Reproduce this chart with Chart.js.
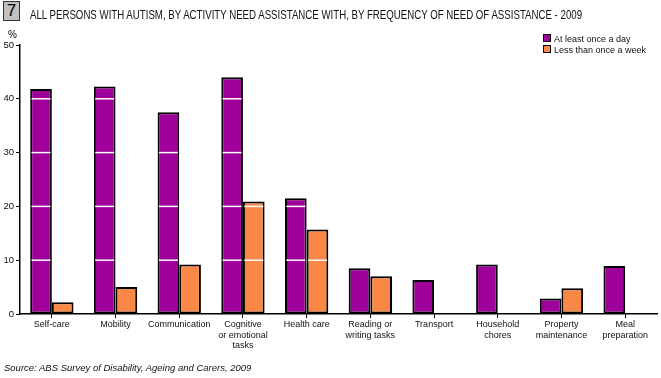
<!DOCTYPE html>
<html>
<head>
<meta charset="utf-8">
<script src="https://cdn.jsdelivr.net/npm/chart.js@4"></script>
<style>
  body { margin: 0; background: #fff; font-family: "Liberation Sans", sans-serif; }
  #wrap { position: relative; width: 661px; height: 378px; overflow: hidden; }
  #chart { position: absolute; left: 0; top: 0; }
  .num { position: absolute; left: 3px; top: 1px; width: 15px; height: 18px; background: #c0c0c0;
         border: 1px solid #333; font: 17px "Liberation Sans", sans-serif; text-align: center; line-height: 18px; }
  .title { position: absolute; left: 30px; top: 8px; font-size: 12px; color: #111; white-space: nowrap;
           transform-origin: 0 0; }
  .pct { position: absolute; left: 8px; top: 29px; font: 10px "Liberation Sans", sans-serif; }
  .legend { position: absolute; left: 543px; top: 34px; font: 9px "Liberation Sans", sans-serif; color: #111; }
  .legend div { height: 11px; line-height: 11px; white-space: nowrap; }
  .legend span { display: inline-block; width: 6px; height: 6px; border: 1px solid #000; margin-right: 3px; vertical-align: 0px; }
  .source { position: absolute; left: 4px; top: 362px; font: italic 9.5px "Liberation Sans", sans-serif; color: #111; }
</style>
</head>
<body>
<div id="wrap">
  <canvas id="chart" width="661" height="378"></canvas>
  <div class="num">7</div>
  <div class="title" id="title">ALL PERSONS WITH AUTISM, BY ACTIVITY NEED ASSISTANCE WITH, BY FREQUENCY OF NEED OF ASSISTANCE - 2009</div>
  <div class="pct">%</div>
  <div class="legend" id="legend"></div>
  <div class="source">Source: ABS Survey of Disability, Ageing and Carers, 2009</div>
</div>
<script>
const categories = [
  "Self-care",
  "Mobility",
  "Communication",
  ["Cognitive", "or emotional", "tasks"],
  "Health care",
  ["Reading or", "writing tasks"],
  "Transport",
  ["Household", "chores"],
  ["Property", "maintenance"],
  ["Meal", "preparation"]
];
const seriesNames = ["At least once a day", "Less than once a week"];
const dailyValues = [41.8, 42.3, 37.5, 44.0, 21.5, 8.5, 6.3, 9.2, 2.9, 8.9];
const weeklyValues = [2.2, 5.0, 9.2, 20.9, 15.7, 7.0, null, null, 4.8, null];
const yTicks = [0, 10, 20, 30, 40, 50];
const colors = ["#9e0099", "#f98846"];

const tickFont = { family: "Liberation Sans", size: 9 };

// squeeze the title like the narrow original font
const titleEl = document.getElementById("title");
titleEl.style.transform = `scaleX(${552 / titleEl.offsetWidth})`;

// legend in html, squares like the original
const legendEl = document.getElementById("legend");
seriesNames.forEach((name, i) => {
  const row = document.createElement("div");
  row.innerHTML = `<span style="background:${colors[i]}"></span>${name}`;
  legendEl.appendChild(row);
});

// white gridlines show only inside the bars, borders stay black
const barGridPlugin = {
  id: "barGrid",
  afterDatasetsDraw(chart) {
    const { ctx } = chart;
    const yScale = chart.scales.y;
    ctx.save();
    ctx.strokeStyle = "#fff";
    ctx.lineWidth = 1.5;
    chart.data.datasets.forEach((ds, di) => {
      chart.getDatasetMeta(di).data.forEach((bar) => {
        if (bar.y == null || isNaN(bar.y)) return;
        const bw = ds.borderWidth;
        const left = bar.x - bar.width / 2 + bw - 0.7;
        const right = bar.x + bar.width / 2 - bw + 0.7;
        yTicks.forEach((v) => {
          if (v === 0) return;
          const py = yScale.getPixelForValue(v);
          if (py <= bar.y + bw || py >= bar.base - bw) return;
          ctx.beginPath();
          ctx.moveTo(left, py);
          ctx.lineTo(right, py);
          ctx.stroke();
        });
      });
    });
    ctx.restore();
  },
};

new Chart(document.getElementById("chart"), {
  type: "bar",
  data: {
    labels: categories,
    datasets: [
      { label: seriesNames[0], data: dailyValues },
      { label: seriesNames[1], data: weeklyValues },
    ].map((ds, i) => ({
      ...ds,
      backgroundColor: colors[i],
      borderColor: "#000",
      borderWidth: 2,
      borderSkipped: false,
      barPercentage: 1,
      categoryPercentage: 0.68,
    })),
  },
  plugins: [barGridPlugin],
  options: {
    responsive: false,
    animation: false,
    layout: { padding: { top: 45, right: 4, left: 0, bottom: 0 } },
    plugins: { legend: { display: false }, tooltip: { enabled: false } },
    scales: {
      x: {
        offset: true,
        grid: { display: true, drawOnChartArea: false, offset: false, tickColor: "#000", tickLength: 4 },
        border: { color: "#000", width: 1.5, z: 2 },
        ticks: { color: "#111", font: tickFont, maxRotation: 0, autoSkip: false, padding: 1 },
        afterFit: (s) => { s.height = 64; },
      },
      y: {
        min: 0,
        max: 50,
        afterBuildTicks: (s) => { s.ticks = yTicks.map((v) => ({ value: v })); },
        grid: { drawOnChartArea: false, tickColor: "#000", tickLength: 4 },
        border: { color: "#000", width: 1.5, z: 2 },
        ticks: { color: "#111", font: { family: "Liberation Sans", size: 9.5 }, padding: 2 },
        afterFit: (s) => { s.width = 20; },
      },
    },
  },
});
</script>
</body>
</html>
